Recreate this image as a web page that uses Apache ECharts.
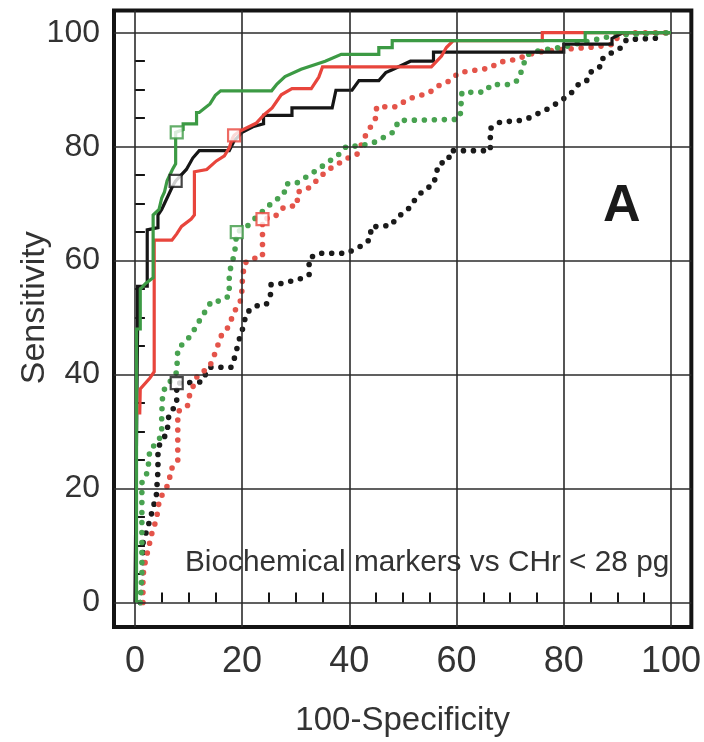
<!DOCTYPE html>
<html><head><meta charset="utf-8">
<script src="https://cdn.jsdelivr.net/npm/echarts@6/dist/echarts.min.js"></script>
<style>html,body{margin:0;padding:0;background:#fff}#c{width:704px;height:742px}</style>
</head><body><div id="c"></div>
<script>
// ---- data ----
const xTickLabels = [0, 20, 40, 60, 80, 100];
const yTickLabels = [0, 20, 40, 60, 80, 100];
const minorTicks = [5, 10, 15, 25, 30, 35, 45, 50, 55, 65, 70, 75, 85, 90, 95];

const blackSolid = [[0,0],[0.5,48],[0.5,55.5],[2.3,55.5],[2.3,65.4],[4.3,65.8],[4.3,68],[5,69],[6,71],[7,73],[7.6,74],[9.6,76],[10.8,78],[12,79.3],[17.6,79.3],[18.5,81],[20,82.5],[22,83.5],[24,84],[24,85.5],[29.3,85.5],[29.3,86.8],[36.8,86.8],[37.5,89.9],[40.5,89.9],[41.8,91.6],[45.5,91.6],[46.8,93],[48,93.5],[51.4,95],[55.7,95],[55.7,96.6],[80,96.6],[80,98],[89,98],[89,99],[91,100],[100,100]];
const redSolid = [[0.9,33],[1,37.5],[2.8,39.4],[3.6,40.5],[3.6,63.6],[6.9,63.6],[7.8,64.7],[8.7,66],[10.5,67.3],[11.1,68],[11.1,75.6],[13.4,76],[15.2,77.5],[16.7,78.4],[17.6,79.8],[18.2,81.5],[18.5,82],[19.5,82.7],[22.6,84.1],[24.1,85.6],[25.6,86.8],[27.3,89.1],[29.3,90.2],[32.9,90.2],[34.3,92.2],[35,94],[55.3,94],[57.2,95.9],[58.1,97.4],[59.4,98.6],[76,98.6],[76,100],[100,100]];
const greenSolid = [[0.3,0],[0.3,48],[1,48],[1,55],[2,56],[3.4,57],[3.4,68],[4.5,69],[5,71],[5.5,72],[6,74],[7,76],[7.6,77],[7.6,82.5],[9,83],[9,84],[11.5,84],[11.5,86],[12,86],[14,87.5],[15,89],[16,89.8],[25.5,89.8],[26.5,91],[28,92.3],[31,93.6],[35.5,95],[38.5,96.2],[45.5,96.2],[45.5,97.4],[48,97.4],[48,98.6],[84,98.6],[84,100],[100,100]];

const blackDotted = [[1,0],[1.5,5],[1.5,10.4],[2.8,14.5],[4,18.8],[4.3,23.1],[4.3,27.2],[5.2,28.6],[6.1,30],[6.1,31.8],[6.5,33.3],[7.8,34.7],[7.8,38.5],[12.4,38.7],[13.9,41.3],[18,41.3],[18.6,43],[19.5,46.3],[20,47.7],[20.8,50.8],[22.3,52],[24.5,52.3],[25.4,54.3],[25.4,55.8],[27.3,56],[30.6,56.7],[32.5,57.5],[32.5,60.4],[34.3,61.3],[39.5,61.3],[41.2,62.1],[42.7,62.8],[44,63.9],[44,65.9],[47.9,66.2],[48.6,67.3],[49.8,68.2],[51.4,69.4],[52.3,70.8],[53.8,72.3],[55.7,73.4],[56.2,75.1],[56.6,76.9],[58.5,77.6],[58.8,79.3],[66.3,79.3],[66.3,83.2],[68.1,84.3],[71.8,84.6],[73.7,85.1],[75.6,86],[77.4,86.8],[79.3,88],[81.1,89.1],[83,91.2],[84.5,91.7],[85.2,93.3],[87.1,94.2],[87.2,95.4],[89.1,96.6],[90.8,97.4],[91.7,98.8],[98.4,99.1]];
const redDotted = [[1.5,0],[1.5,4.7],[1.9,7],[3.3,12.7],[4,14.5],[4.6,18.2],[5.6,19.6],[6.5,21.4],[6.5,23.1],[8,24.9],[8,33.5],[9.8,34.5],[10.2,36.4],[11.7,39.9],[13.9,41.3],[14.8,43.4],[16.3,47.3],[17.3,48.2],[18.9,51.7],[19.9,53.3],[20,56],[20.4,59.5],[21.7,60.3],[23.8,60.7],[23.8,67.3],[26,67.6],[27.8,69.4],[30.3,69.7],[30.3,72],[32.5,72.8],[35.8,75.8],[39.9,78.1],[41.4,78.6],[43,81.9],[44.9,85],[45.1,87],[48.8,87],[51,88.4],[54.8,89.4],[56.6,90.7],[58.1,91.2],[60.5,93],[66.3,93.8],[67.8,94.8],[71.1,95.3],[73,96],[75,96.6],[80,97.1],[85.8,97.5],[89.5,98],[90,99.2],[92,100],[100,100]];
const greenDotted = [[1,0],[1.3,5],[1.3,21],[2.4,23],[2.8,27],[4,27.8],[5,29.5],[5,33],[5.2,37],[7.8,40.4],[8,44.5],[10.4,46.8],[12,49.4],[14.3,52.9],[15.8,52.9],[17.6,53.8],[17.6,57.8],[18.6,61.3],[19,65],[20.8,65.9],[22.6,67.6],[25.4,70],[27.8,71.7],[28.2,73.5],[30,73.5],[33.8,75.8],[38,78.6],[39.5,80.1],[42,80.1],[44.5,80.7],[48.3,82.6],[49.2,84.6],[60.3,84.8],[60.7,85.6],[61,89.5],[65.3,89.6],[66.5,90.9],[70,90.9],[71.3,91.6],[72,93],[72.5,94.4],[73,95.9],[74,96.6],[77,97.1],[80,97.5],[84,98.4],[90,99.6],[100,100]];

// open-square cut-off points per curve
const squaresBlack = [[7.6,74],[7.8,38.5]];
const squaresRed = [[18.5,82],[23.8,67.3]];
const squaresGreen = [[7.8,82.5],[19,65]];

const FONT = '"Liberation Sans", Arial, Helvetica, sans-serif';
const C_BLACK = '#161616', C_RED = '#e8453c', C_GREEN = '#3c9a44';
const C_RED_DOT = '#e4544a', C_GREEN_DOT = '#48a250', C_BLACK_DOT = '#1a1a1a';

function solid(data, color, z) {
  return {type:'line', data, symbol:'none', z, silent:true,
    lineStyle:{color, width:3.2, join:'miter'}};
}
function dotted(data, color, z) {
  return {type:'line', data, symbol:'none', z, silent:true,
    lineStyle:{color, width:5.6, type:[0,10], cap:'round'}};
}
function squares(data, color) {
  return {type:'scatter', data, symbol:'rect', symbolSize:12, z:10, silent:true,
    itemStyle:{color:'#fff', borderColor:color, borderWidth:2.2}};
}

const chart = echarts.init(document.getElementById('c'), null, {renderer:'canvas'});
chart.setOption({
  animation:false,
  backgroundColor:'#fff',
  grid:{left:114, right:10, top:10.5, bottom:107, show:true, borderColor:'#141414', borderWidth:4, backgroundColor:'transparent'},
  xAxis:{type:'value', min:-3.9, max:103.8,
    axisLine:{show:false}, splitLine:{show:false},
    axisTick:{show:true, inside:true, length:10, lineStyle:{color:'#141414', width:2}, customValues:minorTicks},
    axisLabel:{customValues:xTickLabels, margin:17, fontSize:36, color:'#333', fontFamily:FONT},
    name:'100-Specificity', nameLocation:'middle', nameGap:77, nameMoveOverlap:false,
    nameTextStyle:{fontSize:33, color:'#333', fontFamily:FONT}},
  yAxis:{type:'value', min:-4.3, max:103.9,
    axisLine:{show:false}, splitLine:{show:false},
    axisTick:{show:true, inside:true, length:10, lineStyle:{color:'#141414', width:2}, customValues:minorTicks},
    axisLabel:{customValues:yTickLabels, margin:14, fontSize:32, color:'#333', fontFamily:FONT},
    name:'Sensitivity', nameLocation:'middle', nameRotate:90, nameGap:62, nameMoveOverlap:false,
    nameTextStyle:{fontSize:34, color:'#333', fontFamily:FONT, padding:[0,0,0,22]}},
  graphic:[
    {type:'text', left:185, top:548, silent:true,
      style:{text:'Biochemical markers vs CHr < 28 pg', fontSize:29.8, fill:'#333', fontFamily:FONT}},
    {type:'text', left:603, top:181, silent:true,
      style:{text:'A', fontSize:52, fontWeight:'bold', fill:'#1a1a1a', fontFamily:FONT}}
  ],
  series:[
    {type:'line', data:[], silent:true, z:1,
      markLine:{silent:true, symbol:['none','none'], animation:false, label:{show:false},
        lineStyle:{color:'#2b2b2b', width:1.6, type:'solid'},
        emphasis:{disabled:true},
        data:[...xTickLabels.map(v=>({xAxis:v})), ...yTickLabels.map(v=>({yAxis:v}))]}},
    dotted(blackDotted, C_BLACK_DOT, 3),
    dotted(redDotted, C_RED_DOT, 3),
    dotted(greenDotted, C_GREEN_DOT, 3),
    solid(blackSolid, C_BLACK, 4),
    solid(redSolid, C_RED, 5),
    solid(greenSolid, C_GREEN, 6),
    squares(squaresBlack, C_BLACK),
    squares(squaresRed, C_RED),
    squares(squaresGreen, C_GREEN)
  ]
});
</script></body></html>
